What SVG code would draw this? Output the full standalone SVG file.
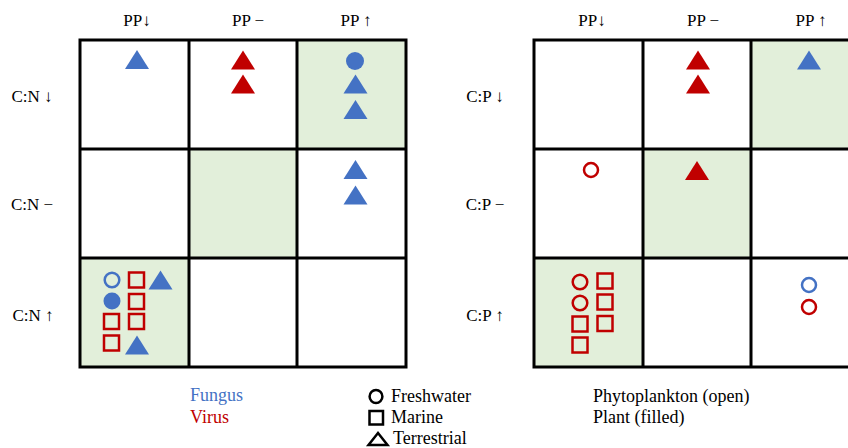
<svg xmlns="http://www.w3.org/2000/svg" width="848" height="448" viewBox="0 0 848 448">
<style>
text{font-family:"Liberation Serif","Times New Roman",serif;fill:#000}
.h{font-size:17px;text-anchor:middle}
.lg{font-size:18px}
.g{fill:#E2EFDA}
.ln{stroke:#000;stroke-width:3;fill:none}
.bf{fill:#4472C4}
.rf{fill:#C00000}
.bo{fill:none;stroke:#4472C4;stroke-width:2.5}
.ro{fill:none;stroke:#C00000;stroke-width:2.5}
.ko{fill:none;stroke:#000;stroke-width:2.5}
</style>
<defs>
<polygon id="tri" points="0,-9.5 -12,9.5 12,9.5"/>
<rect id="sq" x="-7.5" y="-7.5" width="15" height="15"/>
</defs>
<rect width="848" height="448" fill="#fff"/>

<g id="grid-left">
<rect class="g" x="297" y="40" width="109" height="109"/>
<rect class="g" x="189" y="149" width="108" height="109"/>
<rect class="g" x="80" y="258" width="109" height="109"/>
<rect class="ln" x="80" y="40" width="326" height="327"/>
<path class="ln" d="M189,40V367M297,40V367M80,149H406M80,258H406"/>
</g>
<g id="grid-right">
<rect class="g" x="751" y="40" width="109" height="109"/>
<rect class="g" x="643" y="149" width="108" height="109"/>
<rect class="g" x="534" y="258" width="109" height="109"/>
<rect class="ln" x="534" y="40" width="326" height="327"/>
<path class="ln" d="M643,40V367M751,40V367M534,149H860M534,258H860"/>
</g>

<g id="labels-left">
<text class="h" x="137" y="26">PP↓</text>
<text class="h" x="248" y="26">PP −</text>
<text class="h" x="356" y="26">PP ↑</text>
<text class="h" x="32" y="102">C:N ↓</text>
<text class="h" x="32" y="210">C:N −</text>
<text class="h" x="33" y="321">C:N ↑</text>
</g>
<g id="labels-right">
<text class="h" x="592" y="26">PP↓</text>
<text class="h" x="703" y="26">PP −</text>
<text class="h" x="811" y="26">PP ↑</text>
<text class="h" x="485" y="102">C:P ↓</text>
<text class="h" x="485" y="210">C:P −</text>
<text class="h" x="485" y="321">C:P ↑</text>
</g>

<g id="cell-L-0-0"><use href="#tri" class="bf" x="137" y="59.5"/></g>
<g id="cell-L-0-1">
<use href="#tri" class="rf" x="243" y="60"/>
<use href="#tri" class="rf" x="243" y="84"/>
</g>
<g id="cell-L-0-2">
<circle class="bf" cx="355" cy="61" r="9"/>
<use href="#tri" class="bf" x="355.5" y="84"/>
<use href="#tri" class="bf" x="355.5" y="109.5"/>
</g>
<g id="cell-L-1-2">
<use href="#tri" class="bf" x="355.5" y="169.5"/>
<use href="#tri" class="bf" x="355.5" y="195"/>
</g>
<g id="cell-L-2-0">
<circle class="bo" cx="112" cy="280" r="7.3"/>
<circle class="bf" cx="112" cy="301" r="8.5"/>
<use href="#sq" class="ro" x="136.5" y="280"/>
<use href="#sq" class="ro" x="136.5" y="301.5"/>
<use href="#sq" class="ro" x="136.5" y="321.5"/>
<use href="#sq" class="ro" x="111.5" y="321.5"/>
<use href="#sq" class="ro" x="111.5" y="343"/>
<use href="#tri" class="bf" x="160.5" y="280"/>
<use href="#tri" class="bf" x="137" y="345"/>
</g>

<g id="cell-R-0-1">
<use href="#tri" class="rf" x="698" y="60"/>
<use href="#tri" class="rf" x="698" y="84"/>
</g>
<g id="cell-R-0-2"><use href="#tri" class="bf" x="809" y="60"/></g>
<g id="cell-R-1-0"><circle class="ro" cx="591" cy="170" r="7"/></g>
<g id="cell-R-1-1"><use href="#tri" class="rf" x="697" y="170.5"/></g>
<g id="cell-R-2-0">
<circle class="ro" cx="580" cy="282" r="7.3"/>
<circle class="ro" cx="580" cy="303" r="7.3"/>
<use href="#sq" class="ro" x="580" y="324"/>
<use href="#sq" class="ro" x="580" y="345"/>
<use href="#sq" class="ro" x="605" y="281"/>
<use href="#sq" class="ro" x="605" y="302"/>
<use href="#sq" class="ro" x="605" y="323.5"/>
</g>
<g id="cell-R-2-2">
<circle class="bo" cx="809" cy="285" r="7"/>
<circle class="ro" cx="809" cy="307" r="7"/>
</g>

<g id="legend-kingdom">
<text class="lg" x="190" y="401" style="fill:#4472C4">Fungus</text>
<text class="lg" x="190" y="423" style="fill:#C00000">Virus</text>
</g>
<g id="legend-habitat">
<circle class="ko" cx="376" cy="396.5" r="6.4"/>
<rect class="ko" x="369.5" y="411" width="13.5" height="13.5"/>
<polygon class="ko" points="378,433 368.5,445 387.5,445"/>
<text class="lg" x="391" y="401.5">Freshwater</text>
<text class="lg" x="391" y="423">Marine</text>
<text class="lg" x="393" y="444">Terrestrial</text>
</g>
<g id="legend-host">
<text class="lg" x="593" y="401.5">Phytoplankton (open)</text>
<text class="lg" x="593" y="423">Plant (filled)</text>
</g>
</svg>
